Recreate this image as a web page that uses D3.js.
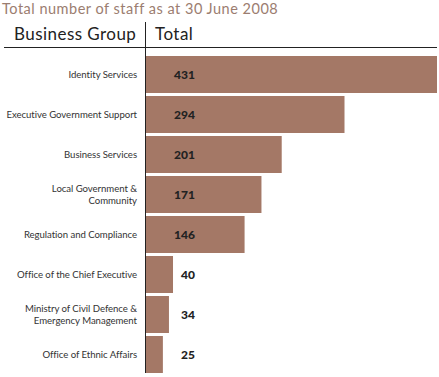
<!DOCTYPE html>
<html lang="en">
  <head>
    <meta charset="utf-8">
    <title>Total number of staff</title>
    <script src="https://d3js.org/d3.v7.min.js"></script>
    <style>
      body { margin: 0; background: #fff; }
      svg text { font-family: "Lato", "Liberation Sans", sans-serif; }
    </style>
  </head>
  <body>
    <script>
      // data
      let groups = [
        "Identity Services",
        "Executive Government Support",
        "Business Services",
        "Local Government &\nCommunity",
        "Regulation and Compliance",
        "Office of the Chief Executive",
        "Ministry of Civil Defence &\nEmergency Management",
        "Office of Ethnic Affairs"
      ];
      let totals = [431, 294, 201, 171, 146, 40, 34, 25];
      let title = "Total number of staff as at 30 June 2008";
      let headers = ["Business Group", "Total"];

      let w = 439, h = 377;
      let barColor = "#a47866";

      let svg = d3.select("body").append("svg")
        .attr("width", w)
        .attr("height", h);

      // scales
      let yScale = d3.scaleBand()
        .domain(groups)
        .range([54.5, 374.5])
        .paddingInner(0.075)
        .paddingOuter(0.0375);

      let xScale = d3.scaleLinear()
        .domain([0, d3.max(totals)])
        .range([146, 437]);

      // title
      svg.append("text")
        .attr("x", 2)
        .attr("y", 14)
        .attr("font-size", "14.5px")
        .attr("letter-spacing", "0.5px")
        .attr("fill", "#9b7d70")
        .text(title);

      // headers
      svg.append("text")
        .attr("x", 14)
        .attr("y", 40)
        .attr("font-size", "17px")
        .attr("letter-spacing", "0.45px")
        .attr("fill", "#222")
        .text(headers[0]);
      svg.append("text")
        .attr("x", 155)
        .attr("y", 40)
        .attr("font-size", "17px")
        .attr("letter-spacing", "0.45px")
        .attr("fill", "#222")
        .text(headers[1]);

      // bars
      let rows = groups.map((g, i) => ({ group: g, total: totals[i] }));

      svg.selectAll("rect.bar")
        .data(rows)
        .enter()
        .append("rect")
        .attr("class", "bar")
        .attr("x", xScale(0))
        .attr("y", d => yScale(d.group))
        .attr("width", d => xScale(d.total) - xScale(0))
        .attr("height", yScale.bandwidth())
        .attr("fill", barColor);

      // rules
      svg.append("line")
        .attr("x1", 4).attr("x2", 437)
        .attr("y1", 47.5).attr("y2", 47.5)
        .attr("stroke", "#222").attr("stroke-width", 1);
      svg.append("line")
        .attr("x1", 145.5).attr("x2", 145.5)
        .attr("y1", 22).attr("y2", 373)
        .attr("stroke", "#222").attr("stroke-width", 1);

      // category labels
      let lineH = 11.5;
      svg.selectAll("text.cat")
        .data(rows)
        .enter()
        .append("text")
        .attr("class", "cat")
        .attr("text-anchor", "end")
        .attr("font-size", "9.6px")
        .attr("letter-spacing", "-0.05px")
        .attr("fill", "#333")
        .each(function(d) {
          let lines = d.group.split("\n");
          let cy = yScale(d.group) + yScale.bandwidth() / 2;
          let top = cy - (lines.length - 1) * lineH / 2;
          lines.forEach((l, k) => {
            d3.select(this).append("tspan")
              .attr("x", 137)
              .attr("y", top + k * lineH)
              .attr("dy", "0.35em")
              .text(l);
          });
        });

      // value labels
      svg.selectAll("text.val")
        .data(rows)
        .enter()
        .append("text")
        .attr("class", "val")
        .attr("text-anchor", "end")
        .attr("x", 195)
        .attr("y", d => yScale(d.group) + yScale.bandwidth() / 2)
        .attr("dy", "0.36em")
        .attr("font-size", "12px")
        .attr("font-weight", "900")
        .attr("fill", "#222")
        .text(d => d.total);
    </script>
  </body>
</html>
